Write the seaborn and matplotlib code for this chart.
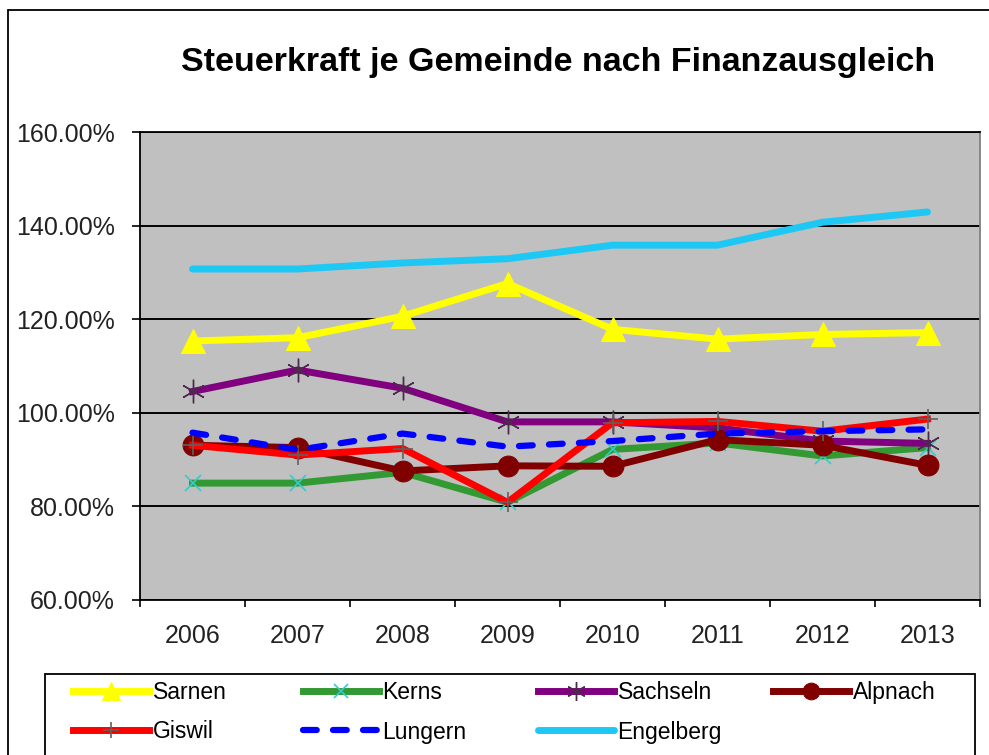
import numpy as np
import pandas as pd
import matplotlib
matplotlib.use("Agg")
import matplotlib.pyplot as plt
from matplotlib.patches import Rectangle
from matplotlib.ticker import FixedLocator, FuncFormatter
import seaborn as sns

# Steuerkraft (in % of the cantonal average) per municipality, 2006-2013
years = [2006, 2007, 2008, 2009, 2010, 2011, 2012, 2013]
sarnen = [115.4, 116.1, 120.7, 127.7, 117.9, 115.8, 116.8, 117.2]
kerns = [85.0, 85.0, 87.3, 80.9, 92.2, 93.6, 90.8, 92.6]
sachseln = [104.6, 109.2, 105.3, 98.1, 98.1, 96.8, 94.0, 93.5]
alpnach = [93.1, 92.6, 87.6, 88.7, 88.6, 94.3, 93.1, 88.8]
giswil = [93.1, 91.0, 92.4, 80.9, 97.9, 98.2, 96.1, 98.7]
lungern = [95.8, 92.1, 95.6, 92.8, 94.0, 95.6, 96.1, 96.5]
engelberg = [130.8, 130.8, 132.1, 133.0, 135.9, 135.9, 140.8, 143.0]

names = ["Sarnen", "Kerns", "Sachseln", "Alpnach", "Giswil", "Lungern", "Engelberg"]
series = [sarnen, kerns, sachseln, alpnach, giswil, lungern, engelberg]
y_ticks = [60, 80, 100, 120, 140, 160]

df = pd.DataFrame(
    [(n, y, v) for n, vals in zip(names, series) for y, v in zip(years, vals)],
    columns=["Gemeinde", "Jahr", "Steuerkraft"],
)

styles = {
    "Sarnen": dict(color="#FFFF00", marker="^", markersize=17, markeredgecolor="#FFFF00"),
    "Kerns": dict(color="#339933", marker="x", markersize=12, markeredgecolor="#33CCCC", markeredgewidth=1.2),
    "Sachseln": dict(color="#800080", marker=(6, 2, 0), markersize=17, markeredgecolor="#4B2A4B", markeredgewidth=1.0),
    "Alpnach": dict(color="#800000", marker="o", markersize=15, markeredgecolor="#800000"),
    "Giswil": dict(color="#FF0000", marker="+", markersize=15, markeredgecolor="#606060", markeredgewidth=1.2),
    "Lungern": dict(color="#0000FF", linestyle=(0, (2.2, 2.6)), dash_capstyle="round", linewidth=4.5),
    "Engelberg": dict(color="#1EC8F5", solid_capstyle="round"),
}

plt.rcParams["font.family"] = ["Liberation Sans", "DejaVu Sans"]

W, H = 989, 755
fig = plt.figure(figsize=(W / 100, H / 100), dpi=100)
ax = fig.add_axes([140 / W, 1 - 600 / H, (980 - 140) / W, (600 - 132.5) / H])
ax.set_facecolor("#C0C0C0")

for name in names:
    sub = df[df["Gemeinde"] == name]
    kw = dict(linewidth=5.0)
    kw.update(styles[name])
    sns.lineplot(data=sub, x="Jahr", y="Steuerkraft", ax=ax, label=name, **kw)

ax.set_xlim(years[0] - 0.5, years[-1] + 0.5)
ax.set_ylim(y_ticks[0], y_ticks[-1])
ax.set_xlabel("")
ax.set_ylabel("")

# category labels at the centres, tick marks on the boundaries
ax.xaxis.set_major_locator(FixedLocator(years))
ax.xaxis.set_minor_locator(FixedLocator([y - 0.5 for y in years] + [years[-1] + 0.5]))
ax.tick_params(axis="x", which="major", length=0, pad=17, labelsize=18, colors="#222222")
ax.tick_params(axis="x", which="minor", length=5, width=1.2, color="black", direction="out")
ax.set_yticks(y_ticks)
ax.yaxis.set_major_formatter(FuncFormatter(lambda v, _: f"{v:.2f}%"))
ax.tick_params(axis="y", length=6, width=1.2, pad=12, labelsize=18, colors="#222222")
ax.tick_params(axis="both", color="black")

ax.grid(axis="y", color="black", linewidth=1.4)
ax.grid(axis="x", visible=False)
ax.set_axisbelow(True)
for side in ["left", "bottom", "top"]:
    ax.spines[side].set_color("black")
    ax.spines[side].set_linewidth(1.3)
ax.spines["right"].set_color("#808080")
ax.spines["right"].set_linewidth(1.3)

handles, labels = ax.get_legend_handles_labels()
ax.get_legend().remove()

# outer chart border and legend box
fig.patches.append(Rectangle((8 / W, -0.1), 1.2, 1 - 10 / H + 0.1, transform=fig.transFigure,
                             fill=False, edgecolor="black", linewidth=1.3, zorder=0))
fig.patches.append(Rectangle((45 / W, -0.1), (975 - 45) / W, 0.1 + 1 - 674 / H,
                             transform=fig.transFigure, fill=False, edgecolor="black",
                             linewidth=1.3, zorder=0))

# legend laid out in four equal-width columns, filled row by row
col_x = [62, 292, 527, 762]
for c, x0 in enumerate(col_x):
    idx = [i for i in range(len(names)) if i % 4 == c]
    fig.legend([handles[i] for i in idx], [labels[i] for i in idx],
               loc="upper left", bbox_to_anchor=(x0 / W, 1 - 670 / H), frameon=False,
               fontsize=16.5, handlelength=3.3, handletextpad=0.15,
               labelspacing=0.7, borderpad=0.0, markerscale=0.8)

fig.text(558 / W, 1 - 63 / H, "Steuerkraft je Gemeinde nach Finanzausgleich",
         ha="center", va="center", fontsize=24.5, fontweight="bold", color="black")

fig.savefig("out.png", dpi=100)
